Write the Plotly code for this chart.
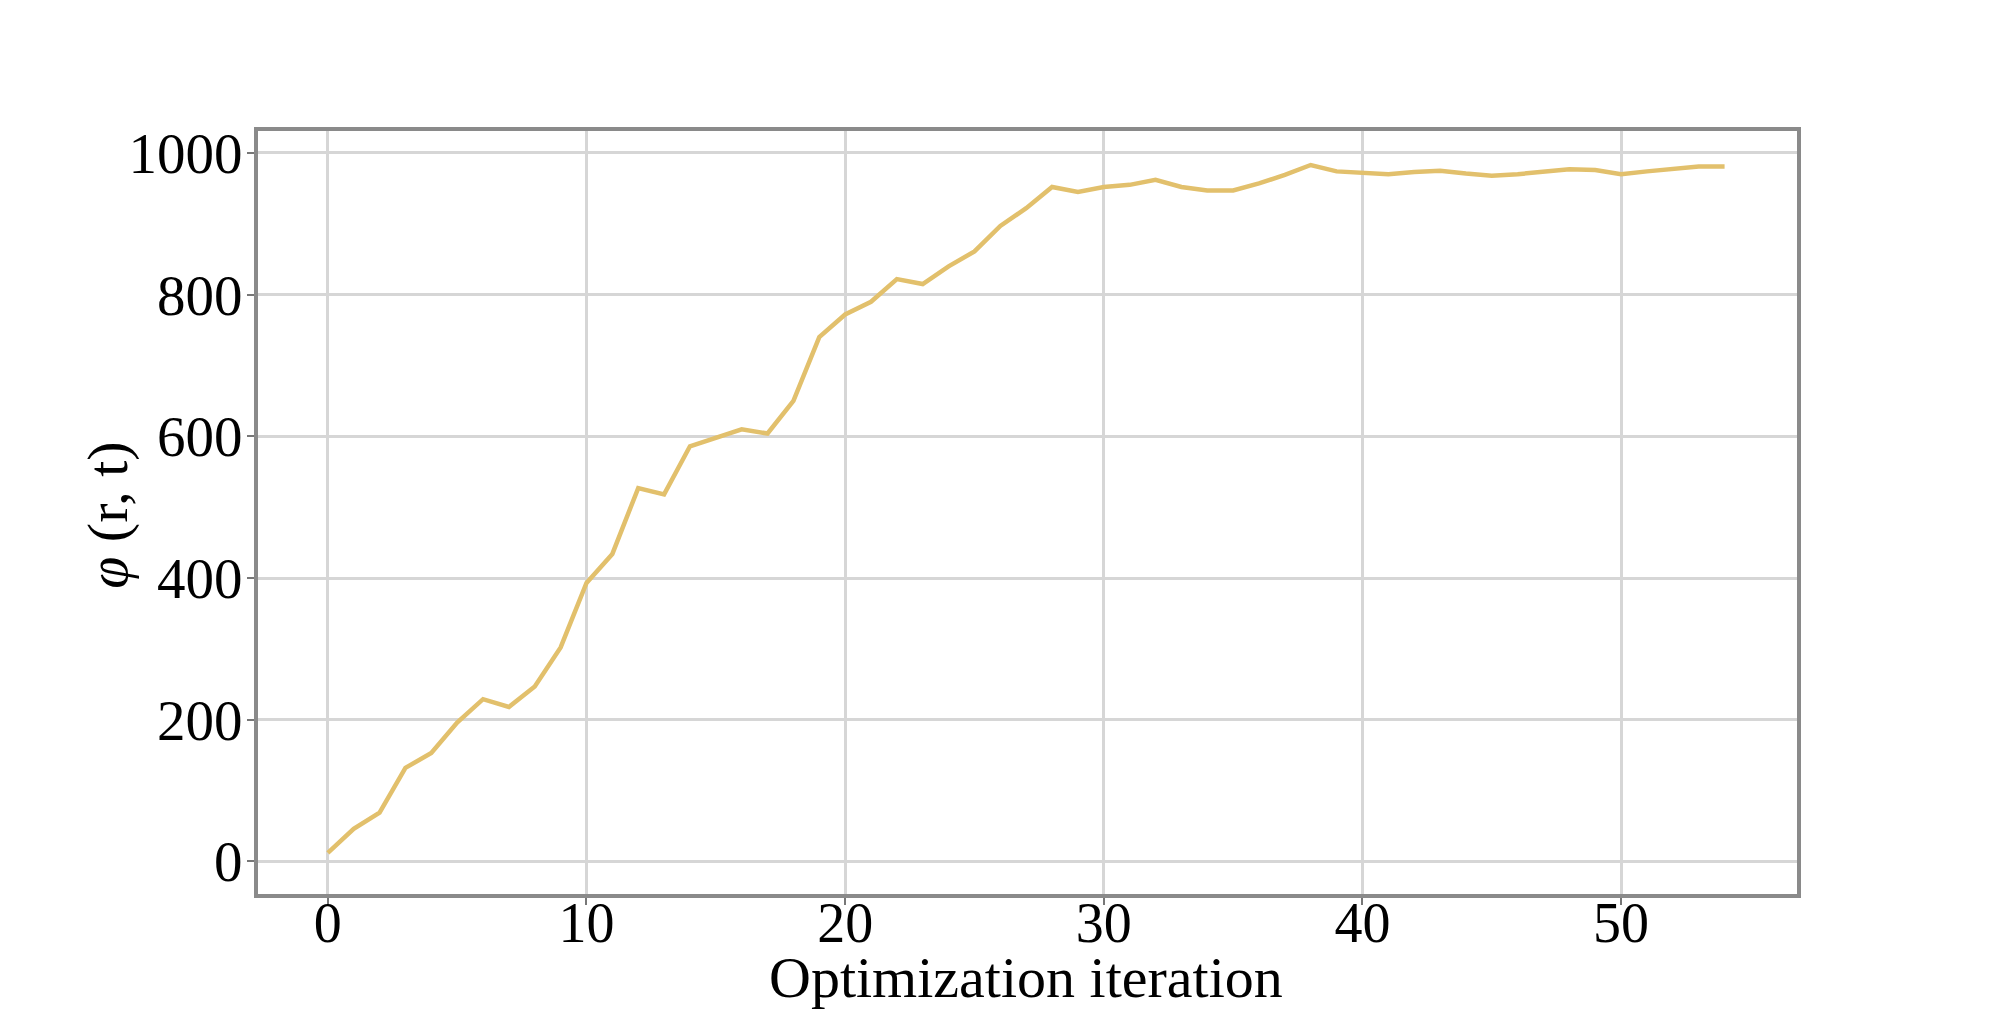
import plotly.graph_objects as go

iterations = list(range(55))
phi_values = [12, 46, 69, 132, 153, 196, 229, 218, 247, 302,
              393, 434, 527, 518, 586, 598, 610, 604, 650, 740,
              772, 790, 822, 815, 840, 861, 897, 922, 952, 945,
              952, 955, 962, 952, 947, 947, 957, 969, 983, 974,
              972, 970, 973, 975, 971, 968, 970, 974, 977, 976,
              970, 974, 978, 981, 981]

x_ticks = [0, 10, 20, 30, 40, 50]
y_ticks = [0, 200, 400, 600, 800, 1000]

x_title = "Optimization iteration"
y_title = "<i>φ</i> (r, t)"

font_family = "Liberation Serif, Times New Roman, serif"

fig = go.Figure()
fig.add_trace(go.Scatter(
    x=iterations, y=phi_values, mode="lines",
    line=dict(color="#E2C06C", width=4.5),
    showlegend=False,
))

fig.update_layout(
    width=2000, height=1011,
    margin=dict(l=250, r=211, t=123, b=125),
    paper_bgcolor="white", plot_bgcolor="white",
    font=dict(family=font_family, size=56, color="black"),
    xaxis=dict(
        range=[-2.7, 56.8], tickvals=x_ticks, ticktext=[str(v) for v in x_ticks],
        showgrid=True, gridcolor="#D6D6D6", gridwidth=2.5,
        zeroline=False, automargin=False,
        showline=True, mirror=True, linecolor="#8A8A8A", linewidth=4,
        ticks="outside", ticklen=7, tickwidth=2, tickcolor="#777777",
        ticklabelstandoff=-30,
        tickfont=dict(family=font_family, size=56),
    ),
    yaxis=dict(
        range=[-46, 1031], tickvals=y_ticks, ticktext=[str(v) for v in y_ticks],
        showgrid=True, gridcolor="#D6D6D6", gridwidth=2.5,
        zeroline=False, automargin=False,
        showline=True, mirror=True, linecolor="#8A8A8A", linewidth=4,
        ticks="outside", ticklen=7, tickwidth=2, tickcolor="#777777",
        ticklabelstandoff=-7,
        tickfont=dict(family=font_family, size=57),
    ),
    annotations=[
        dict(text=x_title, xref="paper", yref="paper", x=0.499, y=-0.109,
             xanchor="center", yanchor="middle", showarrow=False,
             font=dict(family=font_family, size=58, color="black")),
        dict(text=y_title, xref="paper", yref="paper", x=-0.0975, y=0.497,
             xanchor="center", yanchor="middle", showarrow=False, textangle=-90,
             font=dict(family=font_family, size=58, color="black")),
    ],
)

fig.write_html("out.html")
